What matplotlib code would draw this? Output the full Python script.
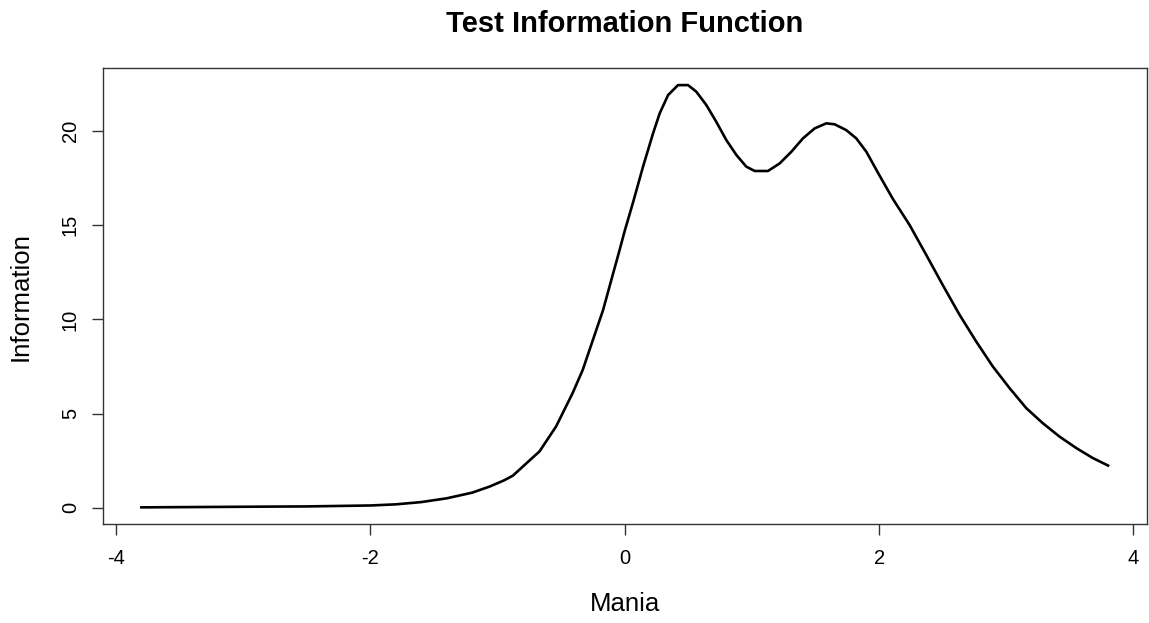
import matplotlib
matplotlib.use('Agg')
import matplotlib.pyplot as plt

# Curva de informação do teste
theta = [-3.80, -3.30, -2.80, -2.50, -2.20, -2.00, -1.80, -1.60, -1.40, -1.20,
         -1.06, -0.95, -0.88, -0.75, -0.67, -0.54, -0.41, -0.33, -0.25, -0.17,
         -0.105, -0.04, 0.00, 0.065, 0.144, 0.223, 0.275, 0.341, 0.419, 0.498,
         0.563, 0.642, 0.72, 0.799, 0.878, 0.956, 1.022, 1.126, 1.218, 1.31,
         1.401, 1.493, 1.585, 1.65, 1.742, 1.821, 1.90, 1.99, 2.108, 2.24,
         2.371, 2.50, 2.633, 2.764, 2.894, 3.026, 3.157, 3.287, 3.418, 3.55,
         3.68, 3.80]
info = [0.02, 0.04, 0.06, 0.07, 0.10, 0.12, 0.18, 0.30, 0.50, 0.80,
        1.13, 1.45, 1.70, 2.50, 2.99, 4.31, 6.08, 7.32, 8.91, 10.50,
        12.10, 13.69, 14.70, 16.20, 18.11, 19.88, 20.94, 21.91, 22.44, 22.44,
        22.09, 21.38, 20.49, 19.52, 18.73, 18.11, 17.88, 17.88, 18.28, 18.90,
        19.61, 20.14, 20.41, 20.36, 20.05, 19.61, 18.90, 17.80, 16.40, 15.01,
        13.42, 11.83, 10.24, 8.82, 7.50, 6.35, 5.29, 4.49, 3.78, 3.17,
        2.64, 2.24]

x_ticks = [-4, -2, 0, 2, 4]
y_ticks = [0, 5, 10, 15, 20]

plt.rcParams['font.family'] = ['Liberation Sans', 'DejaVu Sans']

fig = plt.figure(figsize=(11.49, 6.23), dpi=100)
ax = fig.add_axes([0.0894, 0.1585, 0.9086, 0.732])
ax.plot(theta, info, color='black', linewidth=1.9, solid_joinstyle='round')

# limites estilo R (4% de margem)
xr = max(theta) - min(theta)
yr = max(info) - min(info)
ax.set_xlim(min(theta) - 0.04 * xr, max(theta) + 0.04 * xr)
ax.set_ylim(min(info) - 0.04 * yr, max(info) + 0.04 * yr)

ax.set_xticks(x_ticks)
ax.set_yticks(y_ticks)
ax.set_xticklabels([str(v) for v in x_ticks], fontsize=14.5)
ax.set_yticklabels([str(v) for v in y_ticks], fontsize=14.5, rotation=90, va='center')
ax.tick_params(axis='both', length=8, width=1, color='#333333', direction='out')
ax.tick_params(axis='x', pad=10)
ax.tick_params(axis='y', pad=8.5)
for s in ax.spines.values():
    s.set_color('#333333')
    s.set_linewidth(1)

ax.set_xlabel('Mania', fontsize=18.5, va='center')
ax.set_ylabel('Information', fontsize=18.5, va='center')
ax.xaxis.set_label_coords(0.5, -0.1748)
ax.yaxis.set_label_coords(-0.0783, 0.5)
fig.text(0.5437, 0.9615, 'Test Information Function', fontsize=21,
         fontweight='bold', ha='center', va='center')

fig.savefig('out.png', dpi=100)
